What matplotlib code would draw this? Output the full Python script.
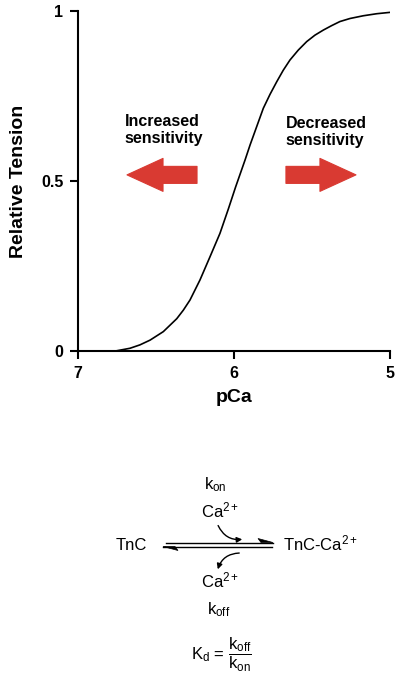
import numpy as np
import matplotlib.pyplot as plt
from matplotlib.patches import Polygon, FancyArrowPatch
from matplotlib.lines import Line2D

plt.rcParams['font.family'] = ['Liberation Sans', 'DejaVu Sans']
plt.rcParams['mathtext.fontset'] = 'custom'
plt.rcParams['mathtext.rm'] = 'Liberation Sans'
plt.rcParams['mathtext.it'] = 'Liberation Sans:italic'
plt.rcParams['mathtext.bf'] = 'Liberation Sans:bold'

# force-pCa curve
pca = [6.76, 6.667, 6.603, 6.538, 6.453, 6.367, 6.325, 6.282, 6.218, 6.154,
       6.09, 6.036, 5.99, 5.929, 5.897, 5.812, 5.769, 5.726, 5.684, 5.641,
       5.588, 5.534, 5.481, 5.427, 5.374, 5.321, 5.256, 5.171, 5.085, 5.0]
tension = [0.0, 0.008, 0.018, 0.032, 0.057, 0.095, 0.12, 0.15, 0.209, 0.277,
           0.346, 0.418, 0.482, 0.562, 0.606, 0.714, 0.755, 0.792, 0.826, 0.856,
           0.885, 0.91, 0.929, 0.944, 0.957, 0.969, 0.978, 0.986, 0.992, 0.996]

x_ticks = [7, 6, 5]
y_ticks = [0, 0.5, 1]
y_ticklabels = ['0', '0.5', '1']

RED = '#d93a32'
W, H = 397, 681


def px(x, y):
    # pixel -> figure fraction
    return x / W, 1 - y / H


fig = plt.figure(figsize=(W / 100, H / 100), dpi=100)
ax = fig.add_axes([78 / W, 1 - 351 / H, 312 / W, 340 / H])

ax.plot(pca, tension, color='black', lw=1.2, solid_joinstyle='round')
ax.set_xlim(7, 5)
ax.set_ylim(0, 1)
ax.set_xticks(x_ticks)
ax.set_xticklabels([str(t) for t in x_ticks])
ax.set_yticks(y_ticks)
ax.set_yticklabels(y_ticklabels)
for s in ['top', 'right']:
    ax.spines[s].set_visible(False)
for s in ['left', 'bottom']:
    ax.spines[s].set_linewidth(1.5)
ax.tick_params(width=1.5, length=5.5, labelsize=11.5, pad=5)
for lab in ax.get_xticklabels() + ax.get_yticklabels():
    lab.set_fontweight('bold')
ax.set_xlabel('pCa', fontsize=14, fontweight='bold', labelpad=6)
ax.set_ylabel('Relative Tension', fontsize=14, fontweight='bold', labelpad=10)
for sp in ax.spines.values():
    sp.set_clip_on(False)

# sensitivity labels
ax.text(6.70, 0.65, 'Increased\nsensitivity', fontsize=11.5, fontweight='bold',
        ha='left', va='center', linespacing=1.2)
ax.text(5.67, 0.645, 'Decreased\nsensitivity', fontsize=11.5, fontweight='bold',
        ha='left', va='center', linespacing=1.2)


def block_arrow(tail, base, tip, yc, hh, sh):
    pts = [(tail, yc - sh), (base, yc - sh), (base, yc - hh), (tip, yc),
           (base, yc + hh), (base, yc + sh), (tail, yc + sh)]
    ax.add_patch(Polygon(pts, closed=True, facecolor=RED, edgecolor=RED,
                         lw=0.8, joinstyle='round'))


block_arrow(6.237, 6.455, 6.686, 0.518, 0.0485, 0.025)
block_arrow(5.667, 5.449, 5.218, 0.518, 0.0485, 0.025)

# reaction scheme
fs = 12
fig.text(*px(215, 485), r'k$_\mathrm{on}$', fontsize=fs, ha='center', va='center')
fig.text(*px(220, 510), r'Ca$^{2+}$', fontsize=fs, ha='center', va='center')
fig.text(*px(131, 545), 'TnC', fontsize=fs, ha='center', va='center')
fig.text(*px(321, 543), r'TnC-Ca$^{2+}$', fontsize=fs, ha='center', va='center')
fig.text(*px(220, 580), r'Ca$^{2+}$', fontsize=fs, ha='center', va='center')
fig.text(*px(219, 610), r'k$_\mathrm{off}$', fontsize=fs, ha='center', va='center')
fig.text(*px(221, 655), r'$\mathrm{K_d}$ = $\dfrac{\mathrm{k_{off}}}{\mathrm{k_{on}}}$',
         fontsize=fs, ha='center', va='center')

# equilibrium harpoons
for (x0, x1, y) in [(166, 273, 542.5), (163, 272, 546.5)]:
    fig.add_artist(Line2D([x0 / W, x1 / W], [1 - y / H, 1 - y / H],
                          color='black', lw=1.0, transform=fig.transFigure))
fig.add_artist(Polygon([px(273, 542.5), px(258, 538.5), px(261, 542.5)], closed=True,
                       facecolor='black', edgecolor='black', lw=0.5,
                       transform=fig.transFigure))
fig.add_artist(Polygon([px(163, 546.5), px(178, 550.5), px(175, 546.5)], closed=True,
                       facecolor='black', edgecolor='black', lw=0.5,
                       transform=fig.transFigure))

# curved arrows (Ca2+ binding / release)
fig.add_artist(FancyArrowPatch(px(217, 523), px(245, 539), transform=fig.transFigure,
                               connectionstyle='arc3,rad=0.4', arrowstyle='-|>',
                               mutation_scale=8, lw=1.0, color='black'))
fig.add_artist(FancyArrowPatch(px(242, 553), px(217, 572), transform=fig.transFigure,
                               connectionstyle='arc3,rad=0.4', arrowstyle='-|>',
                               mutation_scale=8, lw=1.0, color='black'))

fig.savefig('out.png', dpi=100)
